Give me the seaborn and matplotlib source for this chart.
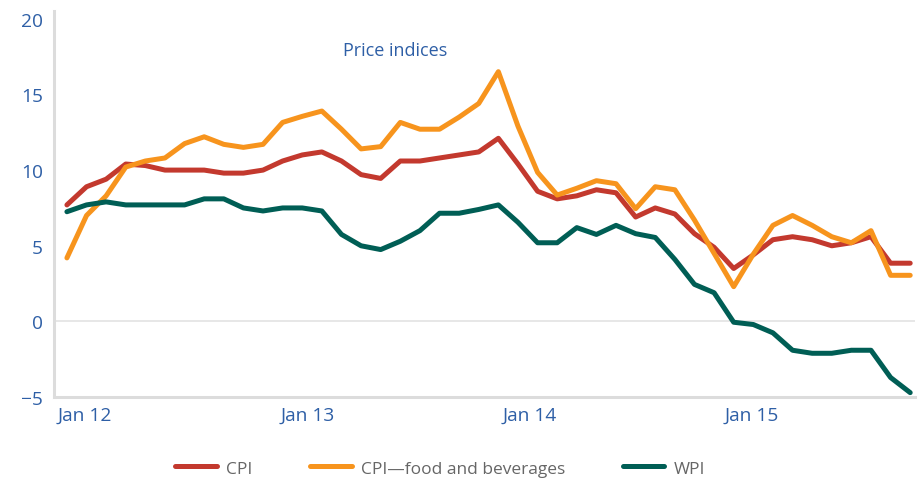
import pandas as pd
from matplotlib import pyplot as plt
import seaborn as sns
import numpy as np

# monthly, Jan 2012 - Aug 2015
months = pd.date_range('2012-01-01', periods=44, freq='MS')

cpi = [7.7, 8.9, 9.4, 10.4, 10.3, 10.0, 10.0, 10.0, 9.8, 9.8, 10.0, 10.6,
       11.0, 11.2, 10.6, 9.7, 9.45, 10.6, 10.6, 10.8, 11.0, 11.2,
       12.1, 10.4, 8.6, 8.1, 8.3, 8.7, 8.5, 6.9, 7.5, 7.1,
       5.8, 4.9, 3.5, 4.4, 5.4, 5.6, 5.4, 5.0, 5.2, 5.6, 3.85, 3.85]
cpi_food = [4.2, 7.0, 8.3, 10.2, 10.6, 10.8, 11.75, 12.2, 11.7, 11.5, 11.7, 13.15,
            13.55, 13.9, 12.7, 11.4, 11.55, 13.15, 12.7, 12.7, 13.5, 14.4,
            16.5, 12.9, 9.85, 8.35, 8.8, 9.3, 9.1, 7.45, 8.9, 8.7,
            6.7, 4.5, 2.3, 4.45, 6.35, 7.0, 6.35, 5.6, 5.2, 6.0, 3.05, 3.05]
wpi = [7.25, 7.7, 7.9, 7.7, 7.7, 7.7, 7.7, 8.1, 8.1, 7.5, 7.3, 7.5,
       7.5, 7.3, 5.75, 5.0, 4.75, 5.3, 6.0, 7.15, 7.15, 7.4,
       7.7, 6.55, 5.2, 5.2, 6.2, 5.75, 6.35, 5.8, 5.55, 4.1,
       2.45, 1.9, -0.05, -0.2, -0.75, -1.9, -2.1, -2.1, -1.9, -1.9, -3.7, -4.7]

series_names = ['CPI', 'CPI\u2014food and beverages', 'WPI']
colors = ['#c3392e', '#f7941d', '#005e55']
tick_labels = ['Jan 12', 'Jan 13', 'Jan 14', 'Jan 15']

idx = np.arange(len(months))
df = pd.DataFrame({'i': np.tile(idx, 3),
                   'value': cpi + cpi_food + wpi,
                   'series': np.repeat(series_names, len(months))})

sns.set_style('white')
plt.rcParams['font.family'] = ['Open Sans', 'DejaVu Sans']

fig = plt.figure(figsize=(9.21, 4.85), dpi=100)
ax = fig.add_axes([0.0586, 0.179, 0.935, 0.796])

sns.lineplot(data=df, x='i', y='value', hue='series', palette=colors,
             linewidth=3.6, ax=ax, legend=False)

ax.axhline(0, color='#e3e3e3', linewidth=1.2, zorder=0)
ax.set_xlim(-0.66, 43.25)
ax.set_ylim(-5, 20.5)
ax.set_yticks([-5, 0, 5, 10, 15, 20])
ax.set_xticks([0.92, 12.3, 23.6, 34.9])
ax.set_xticklabels(tick_labels)
ax.tick_params(axis='both', length=0, labelsize=13.8, labelcolor='#2e5fa6')
ax.tick_params(axis='y', pad=8)
ax.tick_params(axis='x', pad=6)
ax.set_xlabel('')
ax.set_ylabel('')
for s in ['top', 'right']:
    ax.spines[s].set_visible(False)
for s in ['left', 'bottom']:
    ax.spines[s].set_color('#dcdcdc')
    ax.spines[s].set_linewidth(2.2)

ax.text(0.396, 0.90, 'Price indices', transform=ax.transAxes, ha='center',
        va='center', fontsize=13, color='#2e5fa6')

handles = [plt.Line2D([], [], color=c, linewidth=3.6) for c in colors]
fig.legend(handles, series_names, loc='center', bbox_to_anchor=(0.478, 0.032),
           ncol=3, frameon=False, fontsize=12.5, handlelength=2.4,
           columnspacing=3.3, handletextpad=0.55, labelcolor='#666666')

fig.savefig('out.png', dpi=100)
